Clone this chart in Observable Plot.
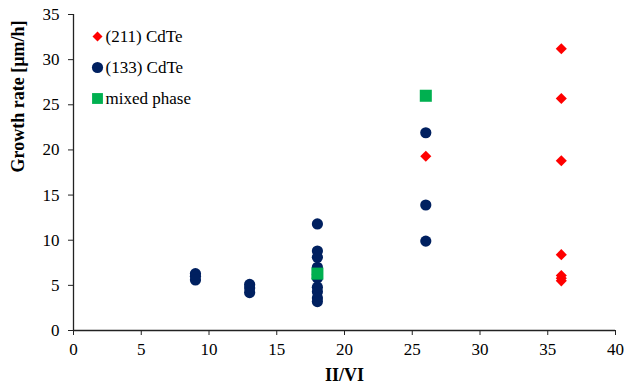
<!DOCTYPE html>
<html>
<head>
<meta charset="utf-8">
<script src="https://cdn.jsdelivr.net/npm/d3@7"></script>
<script src="https://cdn.jsdelivr.net/npm/@observablehq/plot@0.6"></script>
<style>
  html, body { margin: 0; padding: 0; background: #fff; }
  #chart { width: 627px; height: 392px; }
</style>
</head>
<body>
<div id="chart"></div>
<script>
// (211) CdTe
const cdte211X = [26, 36, 36, 36, 36, 36, 36, 36];
const cdte211Y = [19.3, 31.2, 25.7, 18.8, 8.4, 6.1, 5.8, 5.5];
// (133) CdTe
const cdte133X = [9, 9, 9, 13, 13, 13, 18, 18, 18, 18, 18, 18, 18, 18, 18, 18, 26, 26, 26];
const cdte133Y = [6.3, 6.0, 5.6, 5.1, 4.7, 4.2, 11.8, 8.8, 8.1, 7.0, 6.2, 5.8, 4.8, 4.3, 3.6, 3.2, 21.9, 13.9, 9.9];
// mixed phase
const mixedX = [18, 26];
const mixedY = [6.3, 26.0];

const xTicks = [0, 5, 10, 15, 20, 25, 30, 35, 40];
const yTicks = [0, 5, 10, 15, 20, 25, 30, 35];
const seriesNames = ["(211) CdTe", "(133) CdTe", "mixed phase"];
const xLabel = "II/VI";
const yLabel = "Growth rate [µm/h]";

const colors = ["#ff0000", "#002060", "#00b050"];
const symbols = ["diamond2", "circle", "square"];
const radii = [5.0, 5.6, 6.8];

const toRows = (xs, ys, s) => xs.map((x, i) => ({x, y: ys[i], s}));
const series = [
  toRows(cdte211X, cdte211Y, 0),
  toRows(cdte133X, cdte133Y, 1),
  toRows(mixedX, mixedY, 2)
];

const font = "'Liberation Serif', 'Times New Roman', serif";

const legendMarks = seriesNames.flatMap((name, i) => [
  Plot.dot([name], {frameAnchor: "top-left", dx: 24, dy: 22 + i * 31,
    symbol: () => symbols[i], r: radii[i] * (i === 1 ? 1.0 : 0.9), fill: colors[i], stroke: "none"}),
  Plot.text([name], {frameAnchor: "top-left", dx: 32, dy: 22 + i * 31,
    text: d => d, textAnchor: "start", lineAnchor: "middle", fontSize: 17, fill: "#000"})
]);

const chart = Plot.plot({
  width: 627,
  height: 392,
  marginLeft: 73,
  marginRight: 12,
  marginTop: 14,
  marginBottom: 62,
  style: {fontFamily: font, fontSize: "17px", background: "#fff", color: "#000"},
  x: {domain: [0, 40]},
  y: {domain: [0, 35]},
  marks: [
    Plot.ruleY([0], {stroke: "#222", strokeWidth: 1.3}),
    Plot.ruleX([0], {stroke: "#222", strokeWidth: 1.3}),
    Plot.axisX({ticks: xTicks, tickSize: 5, tickPadding: 7, label: null, fontSize: 17, stroke: "#222"}),
    Plot.axisY({ticks: yTicks, tickSize: 5, tickPadding: 9, label: null, fontSize: 17, stroke: "#222"}),
    ...series.map((rows, i) => Plot.dot(rows, {x: "x", y: "y", symbol: () => symbols[i], r: radii[i], fill: colors[i], stroke: "none"})),
    ...legendMarks,
    Plot.text([yLabel], {frameAnchor: "left", dx: -55, rotate: -90, text: d => d, fontWeight: "bold", fontSize: 18, fill: "#000"}),
    Plot.text([xLabel], {frameAnchor: "bottom", dy: 50, text: d => d, fontWeight: "bold", fontSize: 18, fill: "#000"})
  ]
});
document.getElementById("chart").appendChild(chart);
</script>
</body>
</html>
